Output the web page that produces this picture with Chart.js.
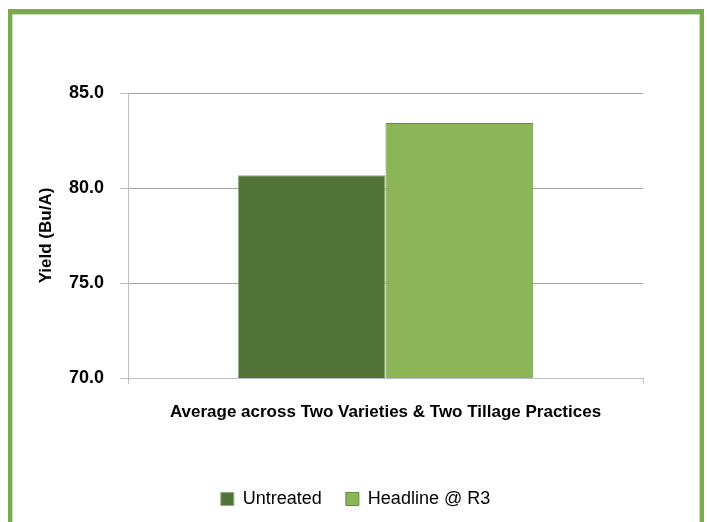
<!DOCTYPE html>
<html>
<head>
<meta charset="utf-8">
<script src="https://cdn.jsdelivr.net/npm/chart.js@4/dist/chart.umd.min.js"></script>
<style>
    html, body { margin: 0; padding: 0; background: #ffffff; overflow: hidden; }
    #frame {
        position: absolute;
        left: 8px;
        top: 9px;
        width: 688px;
        height: 520px;
        border: 4px solid #7aaa4e;
        border-top-width: 5px;
        box-shadow: inset 0 0 0 1px #c9ddb8;
        background: #ffffff;
    }
    #box { position: absolute; left: 0; top: 0; width: 687px; height: 508px; }
</style>
</head>
<body>
<div id="frame"><div id="box"><canvas id="yield"></canvas></div></div>
<script>
"use strict";

const categories = ["Average across Two Varieties & Two Tillage Practices"];
const untreated = [80.67];
const headlineR3 = [83.42];
const yTicks = [70, 75, 80, 85];

const face = "'Liberation Sans', Arial, sans-serif";
const canvas = document.querySelector("#yield").getContext("2d");

// legend sits centred on the whole frame, not only on the padded area
const widenLegend = {
    id: "widenLegend",
    afterLayout: (chart) => {
        if (chart.legend) {
            chart.legend.left = 0;
            chart.legend.right = chart.width;
        }
    },
};

const chart = new Chart(canvas, {
    type: "bar",
    data: {
        labels: categories,
        datasets: [
            {
                label: "Untreated",
                data: untreated,
                backgroundColor: "#507536",
                borderColor: "#8fa986",
                borderWidth: 1,
                categoryPercentage: 0.574,
                barPercentage: 1,
            },
            {
                label: "Headline @ R3",
                data: headlineR3,
                backgroundColor: "#8bb556",
                borderColor: "#5f8b3b",
                borderWidth: 1,
                categoryPercentage: 0.574,
                barPercentage: 1,
            },
        ],
    },
    options: {
        responsive: true,
        maintainAspectRatio: false,
        animation: false,
        layout: {
            padding: { top: 79, right: 56, bottom: 4, left: 0 },
        },
        plugins: {
            tooltip: { enabled: false },
            legend: {
                position: "bottom",
                labels: {
                    boxWidth: 13,
                    boxHeight: 13,
                    padding: 24,
                    color: "#000000",
                    font: { family: face, size: 18 },
                },
            },
        },
        scales: {
            x: {
                grid: {
                    drawOnChartArea: false,
                    color: "#bfbfbf",
                    tickLength: 6,
                },
                border: { color: "#bfbfbf" },
                ticks: {
                    color: "#000000",
                    padding: 18,
                    font: { family: face, size: 17, weight: "bold" },
                },
                afterFit: (scale) => { scale.height = 88; },
            },
            y: {
                min: yTicks[0],
                max: yTicks[yTicks.length - 1],
                afterBuildTicks: (scale) => {
                    scale.ticks = yTicks.map(v => ({ value: v }));
                },
                grid: {
                    color: (ctx) => ctx.tick && ctx.tick.value === yTicks[0] ? "#bfbfbf" : "#a6a6a6",
                    tickColor: "#bfbfbf",
                    tickLength: 8,
                },
                border: { color: "#bfbfbf" },
                ticks: {
                    color: "#000000",
                    padding: 16,
                    font: { family: face, size: 18, weight: "bold" },
                    callback: (value) => Number(value).toFixed(1),
                },
                title: {
                    display: true,
                    text: "Yield (Bu/A)",
                    color: "#000000",
                    padding: { top: 24, bottom: 0 },
                    font: { family: face, size: 17, weight: "bold" },
                },
                afterFit: (scale) => { scale.width = 116; },
            },
        },
    },
    plugins: [widenLegend],
});
</script>
</body>
</html>
